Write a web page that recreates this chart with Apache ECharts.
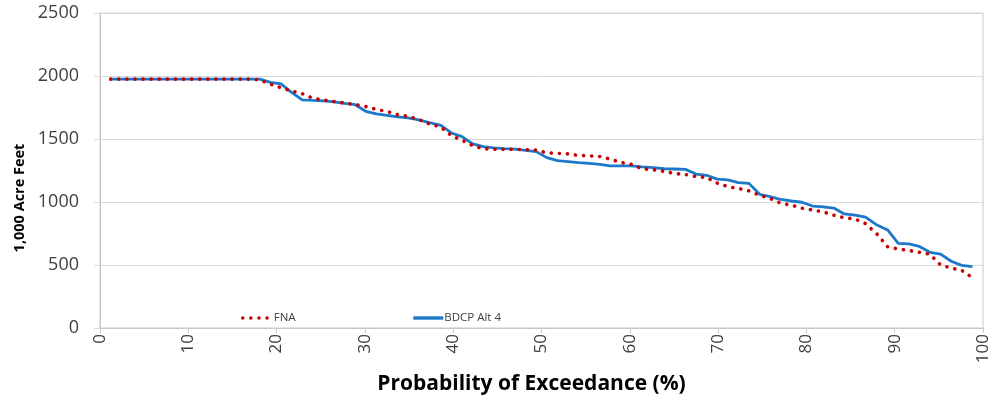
<!DOCTYPE html>
<html>
<head>
<meta charset="utf-8">
<script src="https://cdn.jsdelivr.net/npm/echarts@6/dist/echarts.min.js"></script>
<style>
html,body{margin:0;padding:0;background:#fff;}
#chart{width:994px;height:405px;}
</style>
</head>
<body>
<div id="chart"></div>
<script>
// Probability of exceedance (%) for each ranked year
const exceedance = [1.2,2.4,3.6,4.8,6.0,7.2,8.4,9.6,10.8,12.0,13.3,14.5,15.7,16.9,18.1,19.3,20.5,21.7,22.9,24.1,
  25.3,26.5,27.7,28.9,30.1,31.3,32.5,33.7,34.9,36.1,37.3,38.6,39.8,41.0,42.2,43.4,44.6,45.8,47.0,48.2,
  49.4,50.6,51.8,53.0,54.2,55.4,56.6,57.8,59.0,60.2,61.4,62.7,63.9,65.1,66.3,67.5,68.7,69.9,71.1,72.3,
  73.5,74.7,75.9,77.1,78.3,79.5,80.7,81.9,83.1,84.3,85.5,86.7,88.0,89.2,90.4,91.6,92.8,94.0,95.2,96.4,
  97.6,98.8];
const fna = [1975,1975,1975,1975,1975,1975,1975,1975,1975,1975,1975,1975,1975,1975,1970,1935,1907,1881,1860,1824,
  1810,1797,1786,1774,1758,1735,1718,1693,1680,1655,1620,1595,1526,1490,1448,1423,1418,1418,1418,1415,
  1412,1390,1386,1382,1370,1366,1361,1340,1314,1298,1264,1256,1243,1226,1218,1202,1195,1150,1122,1108,
  1088,1054,1028,990,975,951,937,922,895,875,865,828,745,645,627,616,601,585,500,476,
  457,400];
const bdcp = [1975,1975,1975,1975,1975,1975,1975,1975,1975,1975,1975,1975,1975,1975,1975,1950,1937,1870,1810,1806,
  1803,1795,1783,1772,1720,1700,1688,1675,1668,1652,1630,1608,1548,1519,1462,1439,1430,1424,1419,1410,
  1400,1352,1328,1320,1312,1306,1299,1286,1286,1286,1278,1272,1264,1262,1259,1222,1212,1182,1175,1153,
  1148,1061,1042,1020,1008,998,968,962,952,905,895,880,817,778,672,667,647,601,587,530,
  497,487];
const seriesNames = ['FNA', 'BDCP Alt 4'];
const xTitle = 'Probability of Exceedance (%)';
const yTitle = '1,000 Acre Feet';

const chart = echarts.init(document.getElementById('chart'), null, {renderer: 'canvas'});
const pair = (xs, ys) => xs.map((x, i) => [x, ys[i]]);
const grey = '#404040';
chart.setOption({
  animation: false,
  grid: {left: 100, right: 11, top: 13, bottom: 77, show: true, borderColor: '#c8c8c8', borderWidth: 1},
  legend: {
    left: 236, top: 307, itemWidth: 30, itemHeight: 14, itemGap: 116,
    itemStyle: {opacity: 0},
    lineStyle: {width: 3.4},
    textStyle: {fontFamily: 'Open Sans', fontSize: 11.5, color: grey, padding: [0, 0, 0, -4]},
    data: seriesNames
  },
  xAxis: {
    type: 'value', min: 0, max: 100, interval: 10,
    name: xTitle, nameLocation: 'middle', nameGap: 46,
    nameTextStyle: {fontFamily: 'Open Sans', fontWeight: 'bold', fontSize: 21, color: '#000', padding: [0, 20, 0, 0]},
    axisLine: {lineStyle: {color: '#c8c8c8', width: 1}},
    axisTick: {show: true, length: 5, lineStyle: {color: '#c8c8c8'}},
    axisLabel: {rotate: 90, fontFamily: 'Open Sans', fontSize: 17, color: grey, margin: 6},
    splitLine: {show: false}
  },
  yAxis: {
    type: 'value', min: 0, max: 2500, interval: 500,
    axisLine: {show: true, lineStyle: {color: '#c8c8c8', width: 1}},
    axisTick: {show: true, length: 6, lineStyle: {color: '#d9d9d9'}},
    axisLabel: {fontFamily: 'Open Sans', fontSize: 18, color: grey, margin: 21, formatter: v => String(v)},
    splitLine: {lineStyle: {color: '#d9d9d9', width: 1}}
  },
  graphic: [{
    type: 'text', x: 20, y: 198, rotation: Math.PI / 2,
    style: {text: yTitle, fontFamily: 'Open Sans', fontWeight: 'bold', fontSize: 14.5, fill: '#000',
      align: 'center', verticalAlign: 'middle'}
  }],
  series: [
    {
      name: seriesNames[0], type: 'line', data: pair(exceedance, fna), showSymbol: false, symbol: 'none',
      z: 3, color: '#c80000',
      lineStyle: {color: '#c80000', width: 3.6, type: [0.1, 8], cap: 'round'}
    },
    {
      name: seriesNames[1], type: 'line', data: pair(exceedance, bdcp), showSymbol: false, symbol: 'none',
      z: 2, color: '#1c79c9',
      lineStyle: {color: '#1c79c9', width: 2.8}
    }
  ]
});
</script>
</body>
</html>
